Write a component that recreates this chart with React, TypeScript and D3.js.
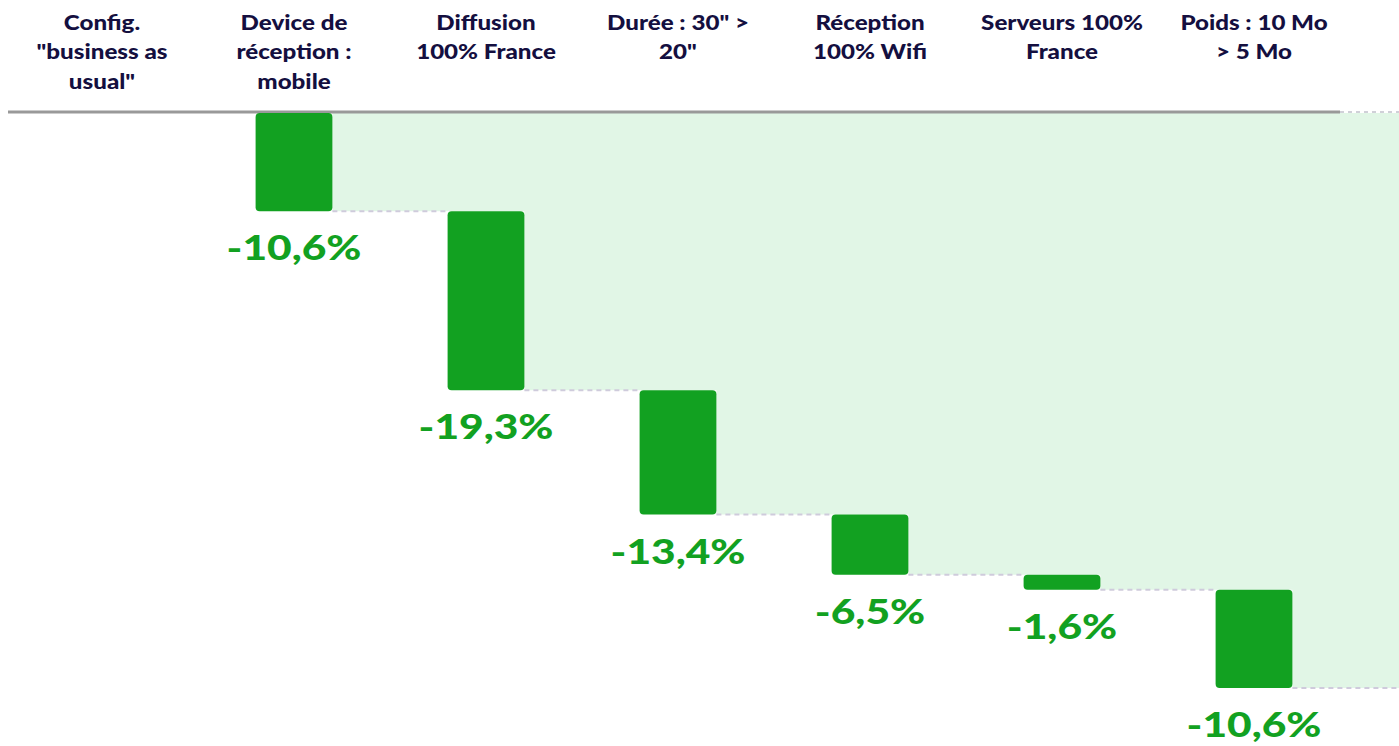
import React from "react";
import * as d3 from "d3";

const headerLines: string[][] = [
  ["Config.", "\"business as", "usual\""],
  ["Device de", "réception :", "mobile"],
  ["Diffusion", "100% France"],
  ["Durée : 30\" >", "20\""],
  ["Réception", "100% Wifi"],
  ["Serveurs 100%", "France"],
  ["Poids : 10 Mo", "> 5 Mo"],
];
const categoryKeys = ["base", "device", "diffusion", "duree", "reception", "serveurs", "poids"];
const stepKeys = ["device", "diffusion", "duree", "reception", "serveurs", "poids"];
const stepValues = [-10.6, -19.3, -13.4, -6.5, -1.6, -10.6];

const W = 1399;
const H = 746;
const NAVY = "#140f3f";
const GREEN = "#12a121";
const FILL = "#e1f6e6";

const frLocale = d3.formatLocale({ decimal: ",", thousands: " ", grouping: [3], currency: ["", "€"] });
const fmt = frLocale.format(".1f");

export default function App() {
  const x = d3.scaleBand<string>().domain(categoryKeys).range([6, 1350]).paddingInner(0.6).paddingOuter(0.3);
  const ends: number[] = [];
  let acc = 0;
  stepValues.forEach((v) => {
    acc += v;
    ends.push(acc);
  });
  const starts = ends.map((e, i) => e - stepValues[i]);
  const minV = d3.min(ends) as number;
  const y = d3.scaleLinear().domain([minV, 0]).range([688, 113]);
  const bw = x.bandwidth();

  const areaPts: [number, number][] = stepKeys.map((k, i) => [(x(k) as number) + bw, ends[i]]);
  areaPts.push([W, ends[ends.length - 1]]);
  const area = d3
    .area<[number, number]>()
    .x((d) => d[0])
    .y0(y(0))
    .y1((d) => y(d[1]))
    .curve(d3.curveStepAfter);

  const rangeEnd = 1340;

  return (
    <svg width={W} height={H} style={{ position: "absolute", left: 0, top: 0, background: "#fff" }}>
      <path d={area(areaPts) || ""} fill={FILL} />
      <line x1={8} x2={rangeEnd} y1={112} y2={112} stroke="#999999" strokeWidth={3} />
      <line x1={rangeEnd} x2={W} y1={112} y2={112} stroke="#d0d0d8" strokeWidth={2} strokeDasharray="4 4" />
      {stepKeys.map((k, i) => {
        const x1 = (x(k) as number) + bw;
        const x2 = i < stepKeys.length - 1 ? (x(stepKeys[i + 1]) as number) : W;
        return (
          <line key={"c" + k} x1={x1} x2={x2} y1={y(ends[i])} y2={y(ends[i])} stroke="#cfcbdc" strokeWidth={2} strokeDasharray="5 4" />
        );
      })}
      {stepKeys.map((k, i) => (
        <rect
          key={"b" + k}
          x={x(k)}
          y={y(starts[i])}
          width={bw}
          height={Math.max(1, y(ends[i]) - y(starts[i]))}
          rx={4}
          fill={GREEN}
        />
      ))}
      {stepKeys.map((k, i) => (
        <g key={"l" + k} transform={`translate(${(x(k) as number) + bw / 2},${y(ends[i]) + 49}) scale(1.25,1)`}>
          <text
            textAnchor="middle"
            fontFamily="Lato, sans-serif"
            fontWeight={900}
            fontSize={34}
            fill={GREEN}
          >
            {fmt(stepValues[i]).replace("−", "-") + "%"}
          </text>
        </g>
      ))}
      {categoryKeys.map((k, i) => (
        <g key={"h" + k} transform={`translate(${(x(k) as number) + bw / 2},30) scale(1.15,1)`}>
          <text
            textAnchor="middle"
            fontFamily="Lato, sans-serif"
            fontWeight={900}
            fontSize={21}
            fill={NAVY}
          >
            {headerLines[i].map((ln, j) => (
              <tspan key={j} x={0} dy={j === 0 ? 0 : 29.5}>
                {ln}
              </tspan>
            ))}
          </text>
        </g>
      ))}
    </svg>
  );
}
